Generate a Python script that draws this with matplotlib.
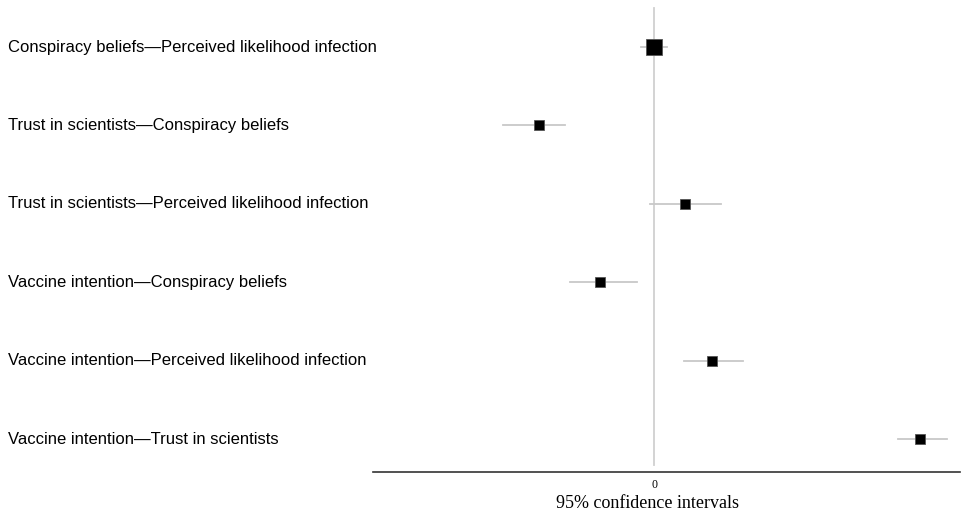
import matplotlib
matplotlib.use("Agg")
import matplotlib.pyplot as plt
from matplotlib.transforms import blended_transform_factory

labels = [
    "Conspiracy beliefs\u2014Perceived likelihood infection",
    "Trust in scientists\u2014Conspiracy beliefs",
    "Trust in scientists\u2014Perceived likelihood infection",
    "Vaccine intention\u2014Conspiracy beliefs",
    "Vaccine intention\u2014Perceived likelihood infection",
    "Vaccine intention\u2014Trust in scientists",
]
estimates = [0.000, -0.115, 0.031, -0.054, 0.058, 0.266]
ci_low = [-0.013, -0.151, -0.004, -0.084, 0.030, 0.244]
ci_high = [0.013, -0.089, 0.067, -0.017, 0.089, 0.293]
marker_sizes = [11.5, 7.0, 7.0, 7.0, 7.0, 7.0]

fig = plt.figure(figsize=(9.65, 5.14), dpi=100)
ax = fig.add_axes([373/965, 1 - 472/514, (960-373)/965, 472/514])

n = len(labels)
ys = list(range(n, 0, -1))
ax.set_ylim(0.58, 6.6)
ax.set_xlim(-0.281, 0.306)

ax.axvline(0, ymin=0.014, ymax=0.983, color="#d0d0d0", lw=1.3, zorder=1)

for y, lo, hi, est, ms in zip(ys, ci_low, ci_high, estimates, marker_sizes):
    ax.plot([lo, hi], [y, y], color="#c8c8c8", lw=1.3, zorder=2)
    ax.plot([est], [y], marker="s", ms=ms, color="black", mec="#555555", mew=0.6, zorder=3)

trans = blended_transform_factory(fig.transFigure, ax.transData)
for y, lab in zip(ys, labels):
    ax.text(8/965, y, lab, transform=trans, ha="left", va="center",
            fontsize=12, family="Liberation Sans", color="black")

for s in ["top", "right", "left"]:
    ax.spines[s].set_visible(False)
ax.spines["bottom"].set_color("#333333")
ax.spines["bottom"].set_linewidth(1.2)
ax.set_yticks([])
ax.set_xticks([0])
ax.set_xticklabels(["0"], family="Liberation Serif", fontsize=8.5)
ax.tick_params(axis="x", length=0, pad=5)
ax.set_xlabel("95% confidence intervals", family="Liberation Serif", fontsize=13)
ax.xaxis.label.set_va("center")
ax.xaxis.set_label_coords((647-373)/587, -(503-472)/472)

fig.savefig("out.png", dpi=100)
